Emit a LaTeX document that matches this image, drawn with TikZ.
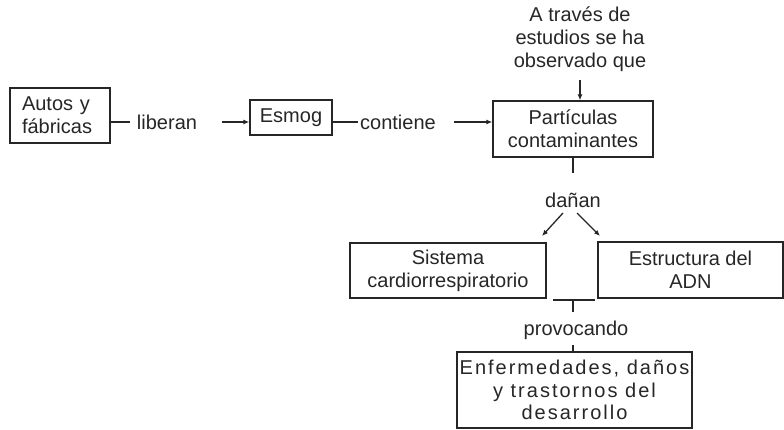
\documentclass[tikz,border=0pt]{standalone}
\usepackage{fontspec}
\setmainfont{Liberation Sans}
\usetikzlibrary{arrows.meta}
\begin{document}
\begin{tikzpicture}[x=1pt,y=-1pt,
  every node/.style={font=\fontsize{20}{23}\selectfont, text=black!85},
  box/.style={draw=black!85, line width=1.3pt, align=center, inner sep=0pt},
  lbl/.style={inner sep=2pt},
  conn/.style={draw=black!85, line width=1.3pt},
  arr/.style={conn, -{Latex[length=6pt,width=5pt]}}]
\useasboundingbox (0,0) rectangle (784,430);

% nodes
\node[box, minimum width=100pt, minimum height=55pt, text width=76pt, align=left, inner xsep=12pt] (autos) at (60,115.5) {Autos y\\fábricas};
\node[box, minimum width=82pt, minimum height=35pt] (esmog) at (291,117.5) {Esmog};
\node[box, minimum width=160pt, minimum height=56pt] (part) at (573,129) {Partículas\\contaminantes};
\node[lbl, align=center] (top) at (580,39) {A través de\\estudios se ha\\observado que};
\node[lbl] (lib) at (167,122) {liberan};
\node[lbl] (con) at (398,122) {contiene};
\node[lbl] (dan) at (573,200) {dañan};
\node[box, minimum width=196pt, minimum height=55pt] (sist) at (448,270.5) {Sistema\\cardiorrespiratorio};
\node[box, minimum width=185pt, minimum height=56pt] (estr) at (690.5,270) {Estructura del\\ADN};
\node[lbl] (prov) at (576,330) {provocando};
\node[box, minimum width=235pt, minimum height=76pt, font=\fontsize{20}{22.5}\selectfont\addfontfeature{LetterSpace=10}] (enf) at (574.5,390) {Enfermedades, daños\\y trastornos del\\desarrollo};

% connectors
\draw[conn, shorten >=5pt] (autos.east |- lib) -- (lib.west);
\draw[arr] ([xshift=23pt]lib.east) -- (esmog.west |- lib);
\draw[conn] (esmog.east |- con) -- (con.west);
\draw[arr] ([xshift=16pt]con.east) -- (part.west |- con);
\draw[arr] ([yshift=-6pt]top.south) -- (top.south |- part.north);

\coordinate (d1) at (573,173);
\draw[conn] (part.south) -- (d1);
\coordinate (dl1) at (563,213);
\coordinate (dl2) at (542,236);
\coordinate (dr1) at (577,213);
\coordinate (dr2) at (600,236);
\draw[arr] (dl1) -- (dl2);
\draw[arr] (dr1) -- (dr2);

\coordinate (bl) at (553,300);
\coordinate (br) at (595,300);
\coordinate (bm) at (573,300);
\coordinate (bm2) at (573,312);
\draw[conn] (bl) -- (br);
\draw[conn] (bm) -- (bm2);
\coordinate (pb) at (573,345);
\draw[conn] (pb) -- (pb |- enf.north);
\end{tikzpicture}
\end{document}
